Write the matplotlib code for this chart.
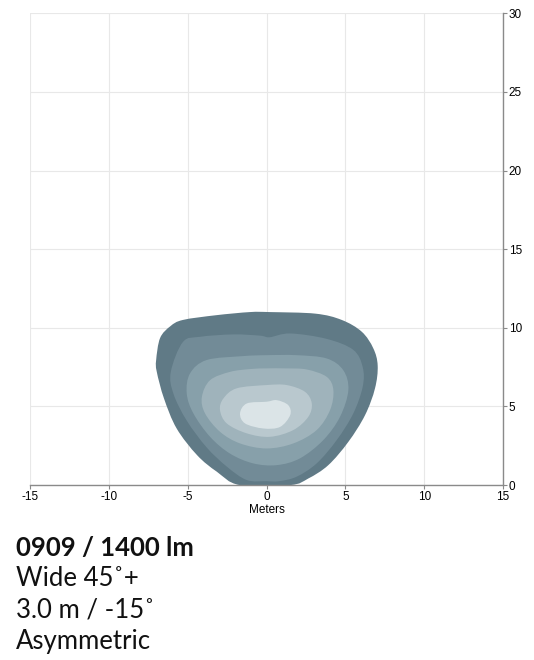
import numpy as np
import matplotlib
matplotlib.use("Agg")
import matplotlib.pyplot as plt
from matplotlib.path import Path
from matplotlib.patches import PathPatch

plt.rcParams['axes.unicode_minus'] = False

# ======================================================
# DATA: isolux contour outlines (meters), outer -> inner
# ======================================================
level1_x = [-1.7, -3.15, -4.4, -5.7, -6.5, -6.96, -7.0, -6.75, -6.1, -5.3, -3.2, -1.05, 0.2,
            3.1, 4.77, 6.04, 6.77, 7.05, 6.88, 6.25, 5.19, 3.92, 2.65, 1.5]
level1_y = [0.0, 0.85, 1.9, 3.6, 5.5, 7.2, 7.95, 9.35, 10.1, 10.5, 10.8, 11.0, 11.0,
            10.9, 10.5, 9.75, 8.7, 7.6, 6.15, 4.45, 2.75, 1.27, 0.42, 0.0]

level2_x = [-1.25, -2.5, -3.8, -5.06, -5.9, -6.07, -5.3, -4.2, -2.1, -0.4, 0.2, 1.5,
            3.8, 5.5, 6.1, 6.1, 5.5, 4.45, 3.18, 1.9, 0.8, 0.0]
level2_y = [0.32, 1.16, 2.4, 4.1, 5.8, 7.2, 9.1, 9.43, 9.58, 9.5, 9.4, 9.64,
            9.3, 8.6, 7.5, 6.25, 4.55, 2.86, 1.38, 0.53, 0.25, 0.25]

level3_x = [-0.84, -2.31, -3.58, -4.64, -5.06, -4.85, -3.8, -1.5, 0.0, 1.9,
            3.82, 4.87, 5.19, 4.66, 3.6, 2.12, 0.65]
level3_y = [1.38, 2.0, 3.07, 4.56, 5.83, 7.1, 7.95, 8.2, 8.26, 8.26,
            8.05, 7.3, 6.04, 4.34, 2.86, 1.7, 1.27]

level4_x = [0.0, -1.68, -2.95, -3.9, -4.1, -3.58, -2.31, -1.0, 0.0, 1.2, 2.55,
            3.82, 4.24, 4.03, 3.18, 1.7]
level4_y = [2.33, 2.65, 3.39, 4.56, 5.6, 6.67, 7.2, 7.38, 7.42, 7.42, 7.35,
            6.88, 6.04, 4.77, 3.5, 2.65]

level5_x = [0.22, -1.25, -2.52, -2.95, -2.74, -1.9, 0.0, 1.28, 2.44, 2.87, 2.65, 1.7]
level5_y = [3.07, 3.29, 3.92, 4.77, 5.5, 6.15, 6.36, 6.36, 5.93, 5.19, 4.34, 3.5]

level6_x = [-0.2, -1.36, -1.68, -1.25, 0.0, 0.65, 1.38, 1.5, 0.86]
level6_y = [3.6, 3.92, 4.56, 5.19, 5.3, 5.4, 5.08, 4.45, 3.7]

level_colors = ['#607a86', '#728b97', '#87a0aa', '#9fb3bb', '#b9c8ce', '#dbe4e7']

x_ticks = [-15, -10, -5, 0, 5, 10, 15]
y_ticks = [0, 5, 10, 15, 20, 25, 30]

title_lines = ["0909 / 1400 lm", "Wide 45˚+", "3.0 m / -15˚", "Asymmetric"]


def smooth_outline(xs, ys):
    # closed curve through the read points, drawn as cubic bezier segments
    p = np.column_stack([xs, ys])
    n = len(p)
    verts = [p[0]]
    codes = [Path.MOVETO]
    for i in range(n):
        p0, p1, p2, p3 = p[i - 1], p[i], p[(i + 1) % n], p[(i + 2) % n]
        verts += [p1 + (p2 - p0) / 6.0, p2 - (p3 - p1) / 6.0, p2]
        codes += [Path.CURVE4] * 3
    return Path(verts, codes)


# ======================================================
# FIGURE
# ======================================================
fig = plt.figure(figsize=(5.34, 6.6), dpi=100)
ax = fig.add_axes([0.0562, 0.265, 0.8858, 0.715])

outlines = [(level1_x, level1_y), (level2_x, level2_y), (level3_x, level3_y),
            (level4_x, level4_y), (level5_x, level5_y), (level6_x, level6_y)]
for (xs, ys), c in zip(outlines, level_colors):
    ax.add_patch(PathPatch(smooth_outline(xs, ys), facecolor=c, lw=0, zorder=2))

ax.set_xlim(-15, 15)
ax.set_ylim(0, 30)
ax.set_xticks(x_ticks)
ax.set_yticks(y_ticks)
ax.grid(True, color='#e8e8e8', lw=0.8, zorder=0)
ax.set_axisbelow(True)

for side in ['left', 'top']:
    ax.spines[side].set_visible(False)
for side in ['right', 'bottom']:
    ax.spines[side].set_color('#8a8a8a')
    ax.spines[side].set_linewidth(1.0)
ax.spines['bottom'].set_zorder(5)
ax.yaxis.tick_right()
ax.tick_params(colors='#8a8a8a', labelcolor='black', length=3, width=0.8, labelsize=8.5, pad=1)
for lbl in ax.get_xticklabels() + ax.get_yticklabels():
    lbl.set_family('Liberation Sans')
ax.set_xlabel('Meters', fontsize=8.5, family='Liberation Sans', labelpad=1)

# ======================================================
# CAPTION
# ======================================================
y0 = 1 - 548 / 660
for k, line in enumerate(title_lines):
    fig.text(16 / 534, y0 - k * 31 / 660, line, fontsize=18.5, family=['Lato', 'DejaVu Sans'],
             weight='bold' if k == 0 else 'normal', va='center', ha='left', color='#111111')

plt.savefig('out.png', dpi=100)
